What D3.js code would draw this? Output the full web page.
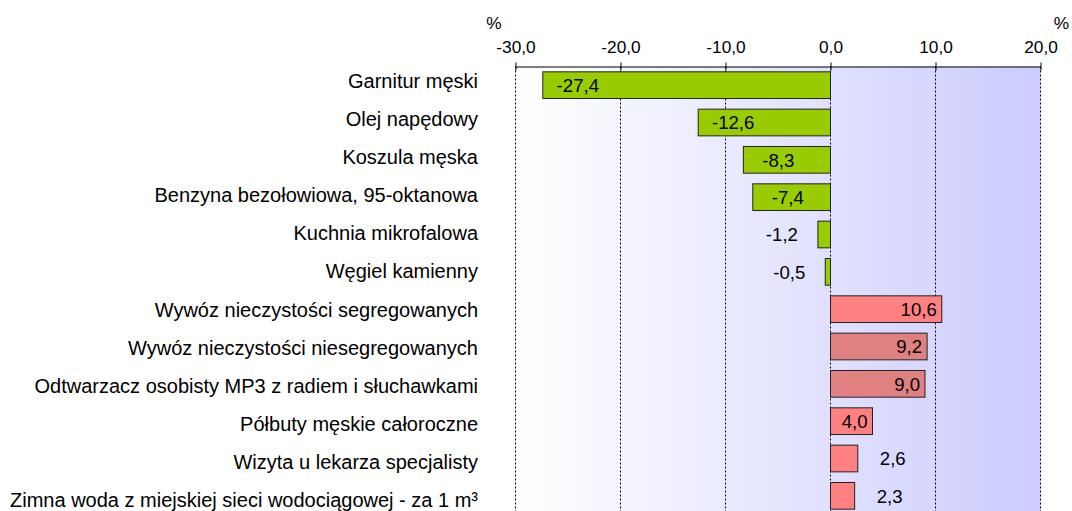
<!DOCTYPE html>
<html>
<head>
<meta charset="utf-8">
<script src="https://cdn.jsdelivr.net/npm/d3@7"></script>
<style>
  body { margin: 0; background: #fff; }
  text { font-family: "Liberation Sans", Arial, sans-serif; fill: #000; }
</style>
</head>
<body>
<div id="chart"></div>
<script>
// Data
const categories = [
    "Garnitur męski",
    "Olej napędowy",
    "Koszula męska",
    "Benzyna bezołowiowa, 95-oktanowa",
    "Kuchnia mikrofalowa",
    "Węgiel kamienny",
    "Wywóz nieczystości segregowanych",
    "Wywóz nieczystości niesegregowanych",
    "Odtwarzacz osobisty MP3 z radiem i słuchawkami",
    "Półbuty męskie całoroczne",
    "Wizyta u lekarza specjalisty",
    "Zimna woda z miejskiej sieci wodociągowej - za 1 m³"
];
const values = [-27.4, -12.6, -8.3, -7.4, -1.2, -0.5, 10.6, 9.2, 9.0, 4.0, 2.6, 2.3];
const xTicks = [-30, -20, -10, 0, 10, 20];
const unitLabel = "%";

// Bar colours (style only)
const barFill = ["#99cc00", "#99cc00", "#99cc00", "#99cc00", "#99cc00", "#99cc00",
    "#ff8080", "#e08080", "#e08080", "#ff8080", "#ff8080", "#ff8080"];

const width = 1072, height = 511;
const plot = { left: 515.5, right: 1040.5, top: 66.5, bottom: 514.5 };

const plLocale = d3.formatLocale({ decimal: ",", thousands: " ", grouping: [3], currency: ["", " zł"], minus: "-" });
const fmt = plLocale.format(".1f");

const svg = d3.select("#chart").append("svg")
    .attr("width", width)
    .attr("height", height);

const x = d3.scaleLinear()
    .domain([d3.min(xTicks), d3.max(xTicks)])
    .range([plot.left, plot.right]);

const y = d3.scaleBand()
    .domain(categories)
    .range([plot.top, plot.bottom])
    .paddingInner(0.285)
    .paddingOuter(0.1425);

// category labels sit on a slightly wider spacing than the bars
const yLabel = d3.scalePoint()
    .domain(categories)
    .range([88, 507]);

// background gradient
const grad = svg.append("defs").append("linearGradient")
    .attr("id", "bg")
    .attr("x1", "0%").attr("x2", "100%")
    .attr("y1", "0%").attr("y2", "0%");
grad.append("stop").attr("offset", "0%").attr("stop-color", "#ffffff");
grad.append("stop").attr("offset", "100%").attr("stop-color", "#ccccff");

svg.append("rect")
    .attr("x", plot.left)
    .attr("y", plot.top)
    .attr("width", plot.right - plot.left)
    .attr("height", plot.bottom - plot.top)
    .style("fill", "url(#bg)");

// gridlines
svg.selectAll(".grid")
    .data(xTicks)
    .enter()
    .append("line")
    .attr("class", "grid")
    .attr("x1", d => x(d))
    .attr("x2", d => x(d))
    .attr("y1", plot.top)
    .attr("y2", plot.bottom)
    .style("stroke", "#000")
    .style("stroke-width", 1)
    .style("stroke-dasharray", "2,2");

// top axis
const axis = svg.append("g")
    .attr("transform", `translate(0,${plot.top})`)
    .call(d3.axisTop(x).tickValues(xTicks).tickFormat(fmt).tickSize(4).tickSizeOuter(0).tickPadding(10));
axis.select(".domain").style("stroke", "#000");
axis.selectAll(".tick line").attr("y1", 4).attr("y2", -4).style("stroke", "#000");
axis.selectAll(".tick text")
    .style("font-size", "17.3px")
    .style("font-family", "'Liberation Sans', Arial, sans-serif")
    .attr("fill", "#000");

// unit labels above both ends of the axis
svg.selectAll(".unit")
    .data([x.range()[0] - 21.5, x.range()[1] + 21])
    .enter()
    .append("text")
    .attr("class", "unit")
    .attr("x", d => d)
    .attr("y", 29)
    .attr("text-anchor", "middle")
    .style("font-size", "17.3px")
    .text(unitLabel);

// bars
svg.selectAll(".bar")
    .data(values)
    .enter()
    .append("rect")
    .attr("class", "bar")
    .attr("x", d => x(Math.min(0, d)))
    .attr("y", (d, i) => y(categories[i]))
    .attr("width", d => Math.abs(x(d) - x(0)))
    .attr("height", y.bandwidth())
    .style("fill", (d, i) => barFill[i])
    .style("stroke", "#222")
    .style("stroke-width", 1);

// value labels
const inside = d => Math.abs(d) >= 4;
svg.selectAll(".val")
    .data(values)
    .enter()
    .append("text")
    .attr("class", "val")
    .attr("x", d => {
        if (d < 0) return inside(d) ? x(d) + 35 : x(d) - 20;
        return inside(d) ? x(d) - 5 : x(d) + 22;
    })
    .attr("y", (d, i) => y(categories[i]) + y.bandwidth() / 2)
    .attr("dy", "0.37em")
    .attr("text-anchor", d => {
        if (d < 0) return inside(d) ? "middle" : "end";
        return inside(d) ? "end" : "start";
    })
    .style("font-size", "18.6px")
    .text(d => fmt(d));

// category labels
svg.selectAll(".cat")
    .data(categories)
    .enter()
    .append("text")
    .attr("class", "cat")
    .attr("x", 478)
    .attr("y", d => yLabel(d))
    .attr("text-anchor", "end")
    .style("font-size", "20px")
    .text(d => d);
</script>
</body>
</html>
